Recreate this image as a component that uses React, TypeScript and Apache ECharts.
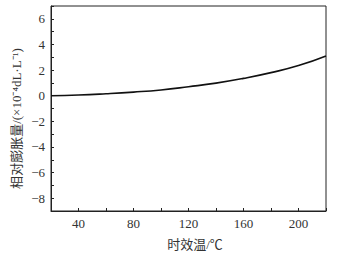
import React, { useEffect, useRef } from "react";
import * as echarts from "echarts";

const temps = [20, 40, 60, 80, 100, 120, 140, 160, 180, 200, 220];
const expansion = [0.0, 0.05, 0.15, 0.28, 0.45, 0.7, 0.98, 1.35, 1.8, 2.35, 3.1];
const xTicks = [40, 80, 120, 160, 200];

const FONT = "'Liberation Serif', 'Noto Sans CJK SC', serif";

export default function App() {
  const ref = useRef<HTMLDivElement>(null);
  useEffect(() => {
    if (!ref.current) return;
    const chart = echarts.init(ref.current, undefined, { renderer: "svg" });
    chart.setOption({
      animation: false,
      grid: {
        left: 51,
        right: 15,
        top: 6,
        bottom: 43,
        show: true,
        borderColor: "#222",
        borderWidth: 1,
        containLabel: false,
        outerBoundsMode: "none",
      },
      xAxis: {
        type: "value",
        min: 20,
        max: 220,
        interval: 20,
        name: "时效温/℃",
        nameLocation: "middle",
        nameGap: 27,
        nameMoveOverlap: false,
        nameTextStyle: { fontFamily: FONT, fontSize: 13, color: "#333", padding: [0, 0, 0, 13] },
        axisLine: { onZero: false, lineStyle: { color: "#222", width: 1 } },
        axisTick: {
          inside: true,
          length: 3,
          lineStyle: { color: "#222" },
          interval: (i: number, v: any) => xTicks.includes(Number(v)),
        },
        axisLabel: {
          fontFamily: FONT,
          fontSize: 13,
          color: "#333",
          margin: 6,
          formatter: (v: number) => (xTicks.includes(v) ? String(v) : ""),
        },
        splitLine: { show: false },
      },
      yAxis: {
        type: "value",
        min: -9,
        max: 7,
        interval: 1,
        name: "相对膨胀量/(×10⁻⁴dL·L⁻¹)",
        nameLocation: "middle",
        nameGap: 28,
        nameMoveOverlap: false,
        nameTextStyle: { fontFamily: FONT, fontSize: 13, color: "#333", padding: [0, 20, 0, 0] },
        axisLine: { onZero: false, lineStyle: { color: "#222", width: 1 } },
        axisTick: {
          inside: true,
          length: 3,
          lineStyle: { color: "#222" },
          interval: (i: number, v: any) => Number(v) % 2 === 0 && Number(v) >= -8 && Number(v) <= 6,
        },
        axisLabel: {
          fontFamily: FONT,
          fontSize: 13,
          color: "#333",
          margin: 6,
          formatter: (v: number) =>
            v % 2 === 0 && v >= -8 && v <= 6 ? String(v).replace("-", "−") : "",
        },
        splitLine: { show: false },
      },
      series: [
        {
          type: "line",
          data: temps.map((t, i) => [t, expansion[i]]),
          smooth: true,
          symbol: "none",
          lineStyle: { color: "#111", width: 1.6 },
        },
      ],
    });
    return () => chart.dispose();
  }, []);
  return (
    <div
      ref={ref}
      style={{ position: "absolute", left: 0, top: 0, width: 341, height: 254 }}
    />
  );
}
